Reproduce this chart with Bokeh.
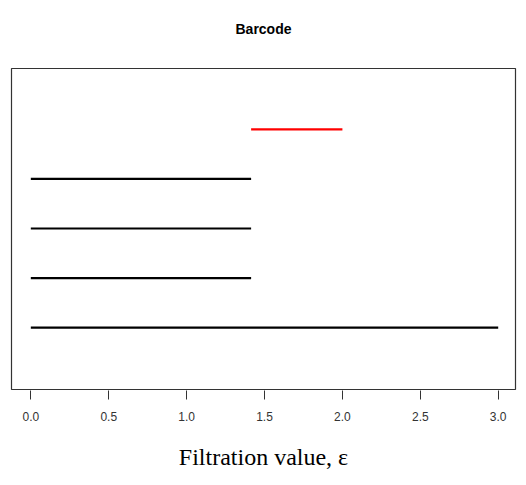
from bokeh.plotting import figure
from bokeh.models import FixedTicker, Range1d, Title
from bokeh.embed import file_html
from bokeh.resources import INLINE

# Persistence barcode intervals (birth, death), dimension
births = [0.0, 0.0, 0.0, 0.0, 1.414]
deaths = [3.0, 1.414, 1.414, 1.414, 2.0]
dims = [0, 0, 0, 0, 1]
tick_values = [0.0, 0.5, 1.0, 1.5, 2.0, 2.5, 3.0]
tick_labels = ["0.0", "0.5", "1.0", "1.5", "2.0", "2.5", "3.0"]
title_text = "Barcode"
xlabel_text = "Filtration value, ε"

colors = ["black" if d == 0 else "red" for d in dims]
levels = list(range(1, len(births) + 1))

p = figure(width=526, height=485, output_backend="svg", toolbar_location=None,
           x_range=Range1d(-0.124, 3.111), y_range=Range1d(-0.25, 6.23),
           min_border_left=11, min_border_right=11, min_border_top=68, min_border_bottom=96)

p.segment(x0=births, y0=levels, x1=deaths, y1=levels, line_color=colors, line_width=2.2)

p.grid.visible = False
p.yaxis.visible = False
p.background_fill_color = "white"
p.border_fill_color = "white"
p.outline_line_color = "#333333"
p.outline_line_width = 1.2

# spacer then title (later-added titles sit farther from the frame)
p.add_layout(Title(text=" ", text_font_size="22px", standoff=0), "above")
p.add_layout(Title(text=title_text, align="center", text_font="Liberation Sans",
                   text_font_size="14px", text_font_style="bold", text_color="black"), "above")

ax = p.xaxis[0]
ax.ticker = FixedTicker(ticks=tick_values)
ax.major_label_overrides = {v: l for v, l in zip(tick_values, tick_labels)}
ax.axis_line_color = None
ax.major_tick_in = -1
ax.major_tick_out = 10
ax.major_tick_line_color = "#333333"
ax.minor_tick_line_color = None
ax.major_label_standoff = 12
ax.major_label_text_font = "Liberation Sans"
ax.major_label_text_font_size = "12px"
ax.major_label_text_color = "#333333"
ax.axis_label = xlabel_text
ax.axis_label_text_font = "Liberation Serif"
ax.axis_label_text_font_size = "24px"
ax.axis_label_text_font_style = "normal"
ax.axis_label_text_color = "black"
ax.axis_label_standoff = 20

open("out.html", "w").write(file_html(p, INLINE))
